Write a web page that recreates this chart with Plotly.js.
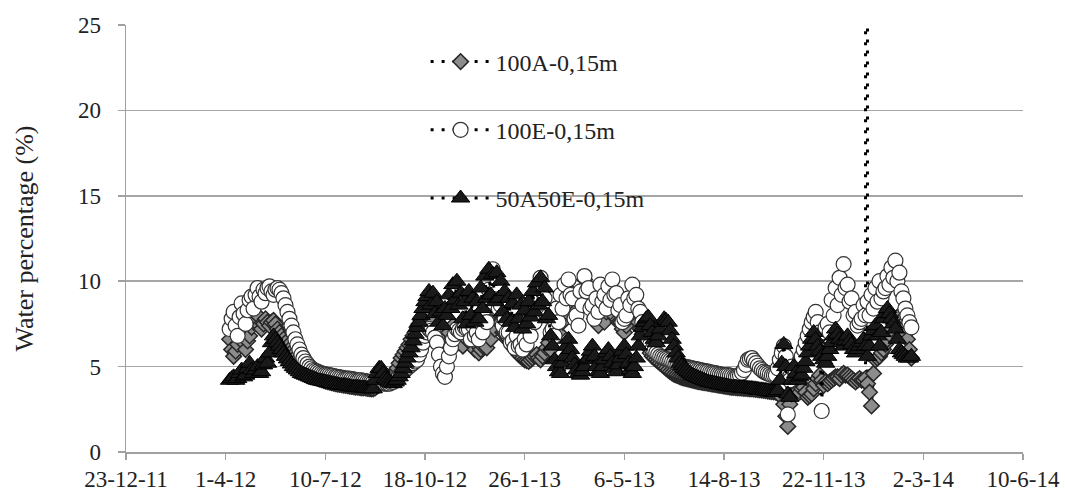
<!DOCTYPE html>
<html><head><meta charset="utf-8">
<script src="https://cdn.plot.ly/plotly-3.0.1.min.js"></script>
<style>html,body{margin:0;padding:0;background:#fff}#chart{width:1065px;height:493px}</style>
</head><body><div id="chart"></div>
<script>
// measurement schedule: first reading and interval (days)
const firstDay = '2012-04-05';
const stepDays = 2;

const s100A = [
 6.6, 6.0, 5.6, 5.9, 6.3, 6.8, 7.0, 6.4, 6.0, 6.5, 6.8, 7.3, 7.6, 7.9, 8.0, 7.4, 7.2, 7.5, 7.8, 7.6,
 7.4, 7.6, 7.7, 7.5, 7.2, 7.0, 6.8, 6.6, 6.4, 6.2, 6.0, 5.85, 5.7, 5.55, 5.4, 5.25, 5.1, 5.0, 4.9, 4.75,
 4.55, 4.48, 4.42, 4.37, 4.32, 4.27, 4.23, 4.19, 4.15, 4.12, 4.09, 4.06, 4.03, 4.0, 3.98, 3.96, 3.94, 3.92, 3.9, 3.88,
 3.86, 3.84, 3.82, 3.8, 3.8, 3.78, 3.76, 3.75, 3.75, 3.73, 3.71, 3.7, 3.7, 3.75, 3.85, 3.95, 4.05, 4.1, 4.15, 4.2,
 4.3, 4.4, 4.5, 4.7, 4.9, 5.2, 5.5, 5.7, 5.9, 6.1, 6.3, 6.6, 6.8, 7.0, 7.3, 7.5, 7.7, 7.9, 8.1, 8.2,
 8.0, 7.4, 7.6, 7.0, 7.3, 6.6, 6.8, 6.4, 6.6, 6.2, 7.0, 6.6, 7.4, 6.8, 7.0, 6.4, 6.6, 6.2, 7.2, 6.6,
 7.0, 6.4, 6.6, 6.0, 6.3, 5.8, 6.0, 6.2, 6.4, 6.1, 7.0, 6.6, 7.8, 7.2, 8.2, 7.6, 7.6, 7.0, 7.0, 6.6,
 6.6, 6.4, 6.2, 6.0, 5.9, 5.7, 5.6, 5.5, 5.4, 5.35, 5.3, 5.4, 5.5, 5.6, 5.7, 5.5, 5.4, 5.6, 5.8, 6.1,
 6.4, 6.0, 6.8, 6.6, 7.5, 7.0, 8.2, 7.6, 8.8, 8.2, 9.5, 8.8, 9.0, 8.4, 8.3, 8.8, 9.4, 9.0, 10.1, 9.6,
 9.4, 8.6, 8.5, 7.8, 7.8, 7.4, 8.4, 7.8, 7.6, 8.2, 8.8, 8.2, 9.2, 8.4, 8.3, 7.6, 7.6, 7.2, 7.0, 7.4,
 7.8, 8.3, 8.8, 8.4, 8.0, 7.6, 7.2, 6.9, 6.6, 6.3, 6.1, 5.8, 5.6, 5.5, 5.4, 5.3, 5.2, 5.1, 5.0, 4.9,
 4.8, 4.7, 4.62, 4.55, 4.5, 4.45, 4.4, 4.36, 4.33, 4.3, 4.27, 4.24, 4.21, 4.18, 4.15, 4.12, 4.1, 4.08, 4.06, 4.04,
 4.02, 4.0, 3.98, 3.96, 3.94, 3.92, 3.9, 3.88, 3.86, 3.84, 3.82, 3.8, 3.79, 3.78, 3.77, 3.76, 3.75, 3.74, 3.73, 3.72,
 3.71, 3.7, 3.69, 3.68, 3.67, 3.65, 3.63, 3.62, 3.6, 3.59, 3.57, 3.55, 3.53, 3.52, 3.5, 3.45, 3.4, 3.2, 2.8, 2.1,
 1.5, 2.8, 3.4, 3.5, 3.6, 3.6, 3.5, 3.7, 3.8, 3.5, 3.2, 3.3, 3.4, 3.7, 4.0, 4.3, 4.5, 4.2, 3.9, 4.1,
 4.0, 4.1, 4.2, 4.3, 4.4, 4.4, 4.3, 4.5, 4.6, 4.5, 4.5, 4.4, 4.3, 4.2, 4.1, 4.2, 4.3, 4.2, 4.2, 4.3,
 4.0, 3.5, 2.7, 4.6, 5.4, 5.5, 5.6, 5.8, 6.0, 6.3, 6.6, 6.9, 7.2, 7.5, 7.8, 7.9, 7.6, 7.4, 7.2, 6.9, 6.6, 6.0, 5.5
];
const s100E = [
 7.2, 7.8, 8.2, 7.4, 6.8, 7.9, 8.7, 8.1, 7.5, 8.3, 8.9, 9.1, 8.4, 9.2, 9.6, 9.1, 8.8, 9.5, 9.3, 9.6,
 9.7, 9.4, 9.2, 9.5, 9.6, 9.5, 9.3, 9.0, 8.6, 8.2, 7.8, 7.4, 7.0, 6.6, 6.3, 6.0, 5.7, 5.5, 5.3, 5.15,
 5.0, 4.9, 4.8, 4.75, 4.7, 4.65, 4.6, 4.57, 4.55, 4.52, 4.5, 4.47, 4.45, 4.42, 4.4, 4.37, 4.35, 4.32, 4.3, 4.3,
 4.3, 4.27, 4.25, 4.22, 4.2, 4.2, 4.2, 4.17, 4.15, 4.12, 4.1, 4.1, 4.1, 4.07, 4.05, 4.05, 4.05, 4.02, 4.0, 4.0,
 4.0, 4.05, 4.1, 4.2, 4.3, 4.45, 4.6, 4.7, 4.8, 4.9, 5.0, 5.1, 5.2, 5.3, 5.4, 5.7, 6.0, 6.4, 6.8, 7.0,
 7.2, 7.1, 7.0, 6.7, 6.4, 5.7, 5.0, 4.6, 4.4, 5.0, 5.6, 6.1, 6.6, 6.9, 7.2, 7.1, 7.0, 7.2, 7.3, 7.2,
 7.2, 6.6, 7.4, 6.8, 7.0, 6.6, 7.6, 7.0, 8.4, 7.6, 9.5, 8.8, 10.7, 9.4, 9.8, 8.4, 8.6, 7.4, 7.8, 7.0,
 7.0, 6.4, 6.5, 6.1, 6.8, 6.2, 6.3, 6.0, 6.6, 6.3, 7.2, 6.8, 8.2, 7.6, 9.4, 8.8, 10.2, 9.4, 9.0, 8.0,
 8.0, 7.0, 7.2, 6.8, 8.4, 7.6, 9.2, 8.4, 9.8, 9.0, 10.1, 9.2, 9.0, 7.8, 8.0, 7.4, 9.4, 8.6, 10.3, 9.4,
 9.6, 8.4, 8.6, 7.8, 9.0, 8.2, 9.8, 8.8, 9.2, 8.4, 9.7, 8.9, 10.1, 9.2, 9.3, 8.3, 8.6, 7.6, 7.8, 8.0,
 9.0, 8.6, 9.8, 9.0, 9.2, 8.4, 8.2, 7.6, 7.4, 6.9, 6.6, 6.3, 6.0, 5.9, 5.8, 5.7, 5.6, 5.55, 5.5, 5.45,
 5.4, 5.35, 5.3, 5.25, 5.2, 5.15, 5.1, 5.05, 5.0, 4.97, 4.95, 4.92, 4.9, 4.87, 4.85, 4.82, 4.8, 4.77, 4.75, 4.72,
 4.7, 4.67, 4.65, 4.62, 4.6, 4.57, 4.55, 4.52, 4.5, 4.5, 4.5, 4.47, 4.45, 4.42, 4.4, 4.45, 4.5, 4.65, 4.8, 5.1,
 5.4, 5.45, 5.5, 5.35, 5.2, 5.05, 4.9, 4.8, 4.7, 4.65, 4.6, 4.55, 4.5, 4.5, 4.5, 4.9, 5.4, 5.8, 6.2, 5.6,
 2.2, 4.2, 5.0, 4.8, 4.6, 5.0, 5.3, 5.6, 6.0, 6.4, 6.8, 7.2, 7.6, 7.9, 8.2, 7.6, 7.0, 2.4, 7.0, 7.3,
 7.5, 7.0, 8.9, 8.0, 9.6, 8.6, 10.2, 9.2, 11.0, 9.6, 9.8, 8.8, 9.0, 8.0, 8.2, 7.4, 7.6, 7.8, 8.6, 8.0,
 8.8, 8.0, 9.2, 8.4, 9.6, 8.8, 10.0, 9.0, 9.4, 9.6, 10.3, 9.8, 10.8, 10.2, 11.2, 10.0, 10.5, 9.4, 9.0, 8.4, 8.0, 7.6, 7.3
];
const s50A50E = [
 4.2, 4.3, 4.4, 4.2, 4.3, 4.6, 4.8, 4.4, 4.5, 4.9, 5.2, 4.8, 4.6, 4.8, 5.0, 4.6, 4.7, 5.1, 5.5, 5.2,
 5.8, 6.4, 6.8, 6.6, 6.4, 6.2, 6.0, 5.8, 5.6, 5.45, 5.3, 5.15, 5.0, 4.9, 4.8, 4.7, 4.6, 4.55, 4.5, 4.45,
 4.4, 4.35, 4.3, 4.25, 4.2, 4.17, 4.15, 4.12, 4.1, 4.07, 4.05, 4.02, 4.0, 3.97, 3.95, 3.92, 3.9, 3.9, 3.9, 3.87,
 3.85, 3.82, 3.8, 3.8, 3.8, 3.77, 3.75, 3.75, 3.75, 3.72, 3.7, 3.7, 3.7, 4.2, 4.6, 4.9, 4.9, 4.6, 4.3, 4.2,
 4.1, 4.05, 4.0, 4.1, 4.2, 4.4, 4.6, 4.9, 5.2, 5.5, 5.8, 6.1, 6.5, 6.9, 7.3, 7.6, 8.0, 8.4, 8.8, 9.1,
 9.4, 8.6, 9.3, 8.1, 8.8, 7.6, 8.2, 7.4, 8.4, 8.0, 9.2, 8.4, 9.8, 8.9, 10.0, 8.6, 9.3, 7.8, 8.8, 7.5,
 9.4, 8.0, 9.0, 7.6, 8.8, 7.8, 9.6, 8.4, 10.3, 9.0, 10.7, 9.2, 10.4, 8.8, 10.5, 9.0, 10.0, 8.2, 9.4, 7.8,
 9.0, 7.6, 8.7, 7.3, 9.2, 7.8, 8.6, 7.2, 8.3, 7.5, 8.8, 7.9, 9.4, 8.2, 9.9, 8.6, 10.2, 8.8, 9.6, 7.8,
 8.0, 6.8, 6.2, 5.4, 5.0, 4.7, 4.6, 5.2, 5.6, 6.2, 6.6, 6.0, 5.5, 5.1, 4.8, 4.6, 4.5, 4.7, 5.0, 5.4,
 5.5, 5.9, 6.2, 5.6, 5.0, 4.7, 4.6, 5.0, 5.4, 5.8, 6.0, 5.6, 5.2, 4.9, 4.7, 5.1, 5.5, 5.9, 6.2, 5.7,
 5.2, 4.8, 4.6, 5.0, 5.5, 6.2, 6.8, 7.3, 7.6, 7.8, 7.9, 7.4, 7.0, 6.6, 6.4, 6.8, 7.2, 7.6, 7.8, 7.7,
 7.6, 7.1, 6.6, 6.2, 5.8, 5.5, 5.2, 5.05, 4.9, 4.8, 4.7, 4.6, 4.5, 4.45, 4.4, 4.35, 4.3, 4.25, 4.2, 4.15,
 4.1, 4.07, 4.05, 4.02, 4.0, 3.97, 3.95, 3.92, 3.9, 3.87, 3.85, 3.82, 3.8, 3.8, 3.8, 3.77, 3.75, 3.75, 3.75, 3.72,
 3.7, 3.7, 3.7, 3.67, 3.65, 3.62, 3.6, 3.6, 3.6, 3.57, 3.55, 3.52, 3.5, 3.5, 3.5, 3.6, 4.2, 5.2, 6.3, 5.0,
 3.4, 3.2, 4.2, 5.0, 4.6, 4.2, 4.4, 4.5, 4.9, 5.3, 5.8, 6.2, 6.6, 7.0, 6.6, 6.2, 5.9, 5.6, 5.4, 5.2,
 5.6, 6.0, 6.4, 6.8, 7.2, 6.9, 6.6, 6.4, 6.2, 6.5, 6.8, 6.5, 6.3, 6.0, 5.8, 6.0, 6.2, 6.4, 6.6, 6.2,
 5.6, 6.2, 6.8, 7.1, 7.4, 6.8, 6.2, 7.0, 7.8, 8.1, 8.4, 8.1, 7.8, 7.5, 7.2, 6.6, 6.0, 5.8, 5.7, 5.6, 5.5, 5.5, 5.6
];
// off-scale reading of 100A (sensor spike), inserted after reading index 319
const spikeAfterIndex = 319;
const spikeDates = ['2014-01-04'];
const spikeValues = [2000];

const tickDates = ['2011-12-23','2012-04-01','2012-07-10','2012-10-18','2013-01-26',
                   '2013-05-06','2013-08-14','2013-11-22','2014-03-02','2014-06-10'];
const tickLabels = ['23-12-11','1-4-12','10-7-12','18-10-12','26-1-13',
                    '6-5-13','14-8-13','22-11-13','2-3-14','10-6-14'];

function scheduleDates(n) {
  const out = [];
  const t0 = Date.parse(firstDay + 'T00:00:00Z');
  for (let i = 0; i < n; i++) {
    out.push(new Date(t0 + i * stepDays * 86400000).toISOString().slice(0, 10));
  }
  return out;
}
const dates = scheduleDates(s100A.length);

const xA = dates.slice(0, spikeAfterIndex + 1).concat(spikeDates, dates.slice(spikeAfterIndex + 1));
const yA = s100A.slice(0, spikeAfterIndex + 1).concat(spikeValues, s100A.slice(spikeAfterIndex + 1));

const FONT = 'Liberation Serif, Times New Roman, serif';
const dotted = {color: '#000', width: 3, dash: '3px,8px'};

const traces = [
  {x: xA, y: yA, name: '100A-0,15m', legendgroup: 'a', legendrank: 1, mode: 'lines+markers',
   line: dotted,
   marker: {symbol: 'diamond', size: 12, color: '#8c8c8c', line: {color: '#262626', width: 1.5}}},
  {x: dates, y: s100E, name: '100E-0,15m', legendgroup: 'b', legendrank: 2, mode: 'lines+markers',
   line: dotted,
   marker: {symbol: 'circle', size: 15, color: '#ffffff', line: {color: '#333', width: 1.2}}},
  {x: dates, y: s50A50E, name: '50A50E-0,15m', legendgroup: 'c', legendrank: 3, mode: 'lines+markers',
   line: dotted,
   marker: {symbol: 'triangle-up', size: 16, color: '#1a1a1a', line: {color: '#000', width: 1}}}
];

const layout = {
  width: 1065, height: 493,
  margin: {l: 126, r: 42, t: 25, b: 41},
  paper_bgcolor: '#fff', plot_bgcolor: '#fff',
  font: {family: FONT, size: 22, color: '#222'},
  showlegend: true,
  legend: {x: 0.334, xanchor: 'left', y: 0.966, yanchor: 'top',
           traceorder: 'grouped', tracegroupgap: 34, itemwidth: 60,
           bgcolor: 'rgba(0,0,0,0)', font: {family: FONT, size: 24, color: '#222'}},
  xaxis: {type: 'date', range: ['2011-12-23', '2014-06-10'],
          tickmode: 'array', tickvals: tickDates, ticktext: tickLabels,
          showgrid: false, zeroline: false,
          showline: true, linecolor: '#a0a0a0', linewidth: 1.5,
          ticks: 'outside', ticklen: 6, tickcolor: '#a0a0a0', tickwidth: 1.5,
          tickfont: {family: FONT, size: 23, color: '#222'}},
  yaxis: {range: [0, 25], tickvals: [0, 5, 10, 15, 20, 25],
          showgrid: true, gridcolor: '#a6a6a6', gridwidth: 1.5, zeroline: false,
          showline: true, linecolor: '#a0a0a0', linewidth: 1.5,
          ticks: 'outside', ticklen: 7, tickcolor: '#a0a0a0', tickwidth: 1.5,
          ticklabelstandoff: 12,
          tickfont: {family: FONT, size: 23, color: '#222'},
          title: {text: 'Water percentage (%)', standoff: 37, font: {family: FONT, size: 26, color: '#222'}}}
};

Plotly.newPlot('chart', traces, layout, {displayModeBar: false, staticPlot: true});
</script>
</body></html>
